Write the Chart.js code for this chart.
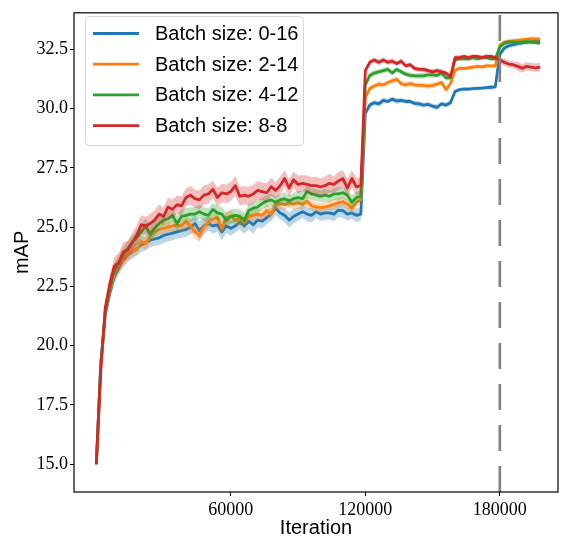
<!DOCTYPE html>
<html>
<head>
<meta charset="utf-8">
<script src="https://cdn.jsdelivr.net/npm/chart.js@4.4.1/dist/chart.umd.min.js"></script>
<style>
html,body{margin:0;padding:0;background:#fff;}
#c{display:block;}
</style>
</head>
<body>
<canvas id="c" width="561" height="537"></canvas>
<script>
// ---------------- DATA ----------------
const iterations = [
  0,2000,4000,6000,8000,10000,12000,14000,16000,18000,
  20000,22000,24000,26000,28000,30000,32000,34000,36000,38000,
  40000,42000,44000,46000,48000,50000,52000,54000,56000,58000,
  60000,62000,64000,66000,68000,70000,72000,74000,76000,78000,
  80000,82000,84000,86000,88000,90000,92000,94000,96000,98000,
  100000,102000,104000,106000,108000,110000,112000,114000,116000,118000,
  120000,122000,124000,126000,128000,130000,132000,134000,136000,138000,
  140000,142000,144000,146000,148000,150000,152000,154000,156000,158000,
  160000,162000,164000,166000,168000,170000,172000,174000,176000,178000,
  180000,182000,184000,186000,188000,190000,192000,194000,196000,198000
];

const seriesLabels = ['Batch size: 0-16','Batch size: 2-14','Batch size: 4-12','Batch size: 8-8'];
const seriesColors = ['#1f77b4','#ff7f0e','#2ca02c','#d62728'];

const map016 = [
  15.0,19.3,21.3,22.2,22.9,23.3,23.6,23.85,23.95,24.1,
  24.25,24.35,24.45,24.5,24.55,24.65,24.7,24.75,24.8,24.85,
  24.9,25.0,25.15,24.85,25.05,25.15,25.05,25.1,24.8,25.05,
  24.95,25.05,25.2,25.05,25.25,25.1,25.3,25.25,25.4,25.55,
  25.8,25.6,25.5,25.3,25.45,25.55,25.65,25.55,25.5,25.65,
  25.55,25.6,25.6,25.55,25.72,25.7,25.55,25.6,25.5,25.55,
  29.8,30.15,30.25,30.2,30.35,30.3,30.4,30.32,30.35,30.3,
  30.3,30.22,30.2,30.15,30.18,30.1,30.05,30.2,30.15,30.25,
  30.72,30.8,30.82,30.82,30.84,30.85,30.86,30.88,30.9,30.92,
  32.3,32.55,32.65,32.7,32.74,32.77,32.8,32.82,32.83,32.84
];
const map214 = [
  15.0,19.1,21.4,22.3,23.0,23.35,23.6,23.85,24.0,24.05,
  24.4,24.3,24.6,24.8,24.9,24.95,25.0,25.05,25.1,25.05,
  25.25,25.05,24.8,24.65,25.0,25.2,25.35,25.4,24.95,25.4,
  25.45,25.3,25.35,25.2,25.45,25.5,25.55,25.5,25.7,25.55,
  25.95,26.0,25.95,26.03,25.96,26.03,25.95,26.1,25.9,25.85,
  25.82,25.85,25.9,25.96,26.03,26.08,25.96,25.8,26.05,26.15,
  30.45,30.85,30.95,31.03,31.0,31.1,31.17,31.24,31.05,31.0,
  31.05,31.0,30.98,30.98,30.95,30.98,31.03,31.1,30.8,31.05,
  31.62,31.7,31.7,31.72,31.75,31.78,31.76,31.8,31.8,31.8,
  32.68,32.8,32.83,32.86,32.88,32.9,32.92,32.94,32.94,32.93
];
const map412 = [
  15.0,19.2,21.5,22.4,23.2,23.5,23.85,24.1,24.35,24.55,
  24.8,25.05,24.7,24.95,25.15,25.3,25.35,25.5,25.15,25.45,
  25.5,25.55,25.55,25.65,25.55,25.5,25.75,25.6,25.55,25.3,
  25.45,25.5,25.45,25.3,25.7,25.8,25.85,26.0,26.1,26.15,
  26.05,26.15,26.2,26.1,26.2,26.25,26.2,26.5,26.4,26.35,
  26.3,26.35,26.3,26.4,26.4,26.45,26.35,26.05,26.25,26.3,
  31.0,31.4,31.5,31.55,31.6,31.65,31.5,31.65,31.55,31.45,
  31.4,31.38,31.38,31.38,31.42,31.42,31.4,31.5,31.3,31.3,
  32.05,32.1,32.1,32.1,32.15,32.1,32.15,32.15,32.1,32.1,
  32.6,32.75,32.8,32.8,32.78,32.8,32.82,32.8,32.78,32.76
];
const map88 = [
  15.0,19.0,21.6,22.6,23.35,23.5,23.95,24.05,24.35,24.65,
  25.1,25.05,25.15,25.3,25.55,25.45,25.85,25.75,25.95,25.9,
  26.25,26.35,26.2,26.15,26.35,26.4,26.6,26.25,26.45,26.4,
  26.5,26.75,26.3,26.35,26.3,26.4,26.55,26.5,26.45,26.7,
  26.55,26.75,27.05,26.65,27.0,26.8,26.85,26.8,26.75,26.75,
  26.7,26.75,26.85,26.8,26.95,27.05,26.65,27.05,26.7,26.75,
  31.6,31.95,32.05,31.95,32.05,31.95,32.0,31.9,32.0,31.8,
  31.85,31.7,31.65,31.65,31.6,31.55,31.6,31.55,31.5,31.35,
  32.15,32.15,32.2,32.15,32.2,32.2,32.15,32.2,32.2,32.15,
  32.05,31.95,31.88,31.85,31.78,31.7,31.78,31.75,31.72,31.75
];

// half-width of the shaded band around each curve
const spread016 = [
  0.05,0.2,0.25,0.25,0.3,0.3,0.3,0.3,0.28,0.3,
  0.3,0.32,0.3,0.28,0.3,0.32,0.3,0.3,0.28,0.3,
  0.32,0.3,0.35,0.4,0.35,0.3,0.32,0.3,0.35,0.3,
  0.3,0.28,0.3,0.32,0.35,0.38,0.3,0.3,0.28,0.3,
  0.3,0.28,0.3,0.32,0.3,0.28,0.25,0.3,0.3,0.28,
  0.28,0.3,0.28,0.3,0.28,0.3,0.28,0.25,0.28,0.3,
  0.12,0.12,0.1,0.12,0.12,0.1,0.1,0.12,0.1,0.1,
  0.1,0.1,0.12,0.1,0.1,0.12,0.12,0.1,0.1,0.12,
  0.08,0.08,0.09,0.08,0.08,0.09,0.08,0.08,0.09,0.08,
  0.15,0.12,0.1,0.1,0.1,0.1,0.1,0.1,0.1,0.1
];
const spread214 = [
  0.05,0.2,0.22,0.22,0.25,0.25,0.25,0.28,0.25,0.25,
  0.25,0.28,0.25,0.25,0.22,0.25,0.25,0.25,0.22,0.25,
  0.25,0.28,0.3,0.28,0.25,0.25,0.22,0.25,0.3,0.25,
  0.25,0.22,0.25,0.25,0.22,0.25,0.25,0.22,0.25,0.25,
  0.22,0.25,0.22,0.2,0.22,0.25,0.22,0.2,0.22,0.2,
  0.2,0.22,0.2,0.22,0.2,0.2,0.22,0.25,0.2,0.2,
  0.12,0.12,0.1,0.12,0.1,0.1,0.12,0.1,0.1,0.12,
  0.12,0.1,0.12,0.1,0.12,0.1,0.12,0.1,0.12,0.1,
  0.1,0.1,0.08,0.1,0.08,0.1,0.08,0.1,0.08,0.1,
  0.1,0.1,0.1,0.1,0.1,0.1,0.1,0.1,0.1,0.1
];
const spread412 = [
  0.05,0.2,0.25,0.25,0.28,0.3,0.3,0.3,0.3,0.3,
  0.32,0.3,0.35,0.3,0.3,0.28,0.3,0.3,0.32,0.3,
  0.3,0.28,0.3,0.3,0.28,0.3,0.28,0.3,0.3,0.32,
  0.3,0.28,0.3,0.3,0.28,0.25,0.28,0.25,0.25,0.28,
  0.25,0.25,0.28,0.25,0.25,0.28,0.3,0.28,0.25,0.25,
  0.25,0.28,0.25,0.25,0.28,0.25,0.25,0.3,0.25,0.25,
  0.12,0.12,0.12,0.1,0.12,0.1,0.12,0.1,0.12,0.1,
  0.12,0.1,0.12,0.12,0.1,0.12,0.1,0.12,0.12,0.12,
  0.1,0.08,0.08,0.1,0.08,0.1,0.08,0.1,0.08,0.1,
  0.1,0.1,0.08,0.1,0.1,0.08,0.1,0.1,0.08,0.1
];
const spread88 = [
  0.05,0.25,0.3,0.35,0.38,0.4,0.4,0.38,0.4,0.42,
  0.4,0.38,0.4,0.42,0.4,0.38,0.4,0.42,0.38,0.4,
  0.38,0.4,0.38,0.4,0.42,0.4,0.38,0.4,0.38,0.4,
  0.4,0.42,0.4,0.38,0.4,0.38,0.4,0.38,0.4,0.38,
  0.35,0.38,0.35,0.38,0.35,0.38,0.35,0.38,0.35,0.38,
  0.35,0.38,0.4,0.35,0.38,0.35,0.38,0.35,0.38,0.35,
  0.12,0.12,0.1,0.12,0.12,0.1,0.12,0.1,0.12,0.1,
  0.1,0.12,0.1,0.12,0.1,0.12,0.1,0.12,0.1,0.12,
  0.1,0.1,0.08,0.1,0.1,0.08,0.1,0.1,0.08,0.1,
  0.12,0.15,0.15,0.15,0.18,0.18,0.18,0.18,0.18,0.18
];

const seriesValues = [map016, map214, map412, map88];
const seriesSpreads = [spread016, spread214, spread412, spread88];

const yTickValues = [15.0, 17.5, 20.0, 22.5, 25.0, 27.5, 30.0, 32.5];
const xTickValues = [60000, 120000, 180000];
const markerIteration = 180000;
const xLimits = [-9950, 205950];
const yLimits = [13.83, 34.04];
const xAxisTitle = 'Iteration';
const yAxisTitle = 'mAP';

// ---------------- CHART ----------------
function hexA(hex, a){
  const n = parseInt(hex.slice(1),16);
  return `rgba(${(n>>16)&255},${(n>>8)&255},${n&255},${a})`;
}
function pts(vals, off, sign){
  return iterations.map((x,i)=>({x:x, y: vals[i] + sign*(off ? off[i] : 0)}));
}

// first dataset is drawn on top, so build list top-most first
const datasets = [];
datasets.push({
  label: 'marker',
  data: [{x: markerIteration, y: yLimits[0]}, {x: markerIteration, y: yLimits[1]}],
  borderColor: '#808080',
  borderWidth: 2.6,
  borderDash: [26, 15],
  pointRadius: 0,
  fill: false,
  tension: 0
});
for (let k = seriesValues.length - 1; k >= 0; k--) {
  datasets.push({
    label: seriesLabels[k],
    data: pts(seriesValues[k], null, 0),
    borderColor: seriesColors[k],
    borderWidth: 2.8,
    pointRadius: 0,
    fill: false,
    tension: 0,
    borderJoinStyle: 'round'
  });
  datasets.push({
    label: 'upper' + k,
    data: pts(seriesValues[k], seriesSpreads[k], 1),
    borderWidth: 0,
    borderColor: 'rgba(0,0,0,0)',
    pointRadius: 0,
    backgroundColor: hexA(seriesColors[k], 0.3),
    fill: '+1',
    tension: 0
  });
  datasets.push({
    label: 'lower' + k,
    data: pts(seriesValues[k], seriesSpreads[k], -1),
    borderWidth: 0,
    borderColor: 'rgba(0,0,0,0)',
    pointRadius: 0,
    fill: false,
    tension: 0
  });
}

const decor = {
  id: 'decor',
  afterDraw(chart){
    const ctx = chart.ctx, a = chart.chartArea;
    ctx.save();
    // frame
    ctx.strokeStyle = '#000';
    ctx.lineWidth = 1.2;
    ctx.strokeRect(a.left, a.top, a.right - a.left, a.bottom - a.top);
    // axis titles
    ctx.fillStyle = '#000';
    ctx.font = '20px "Liberation Sans", Arial, sans-serif';
    ctx.textAlign = 'center';
    ctx.textBaseline = 'middle';
    ctx.fillText(xAxisTitle, (a.left + a.right)/2, 528);
    ctx.save();
    ctx.translate(22, (a.top + a.bottom)/2);
    ctx.rotate(-Math.PI/2);
    ctx.fillText(yAxisTitle, 0, 0);
    ctx.restore();
    // legend
    const lx = 85.5, ly = 16.5, lw = 218, lh = 129, r = 4;
    ctx.beginPath();
    ctx.moveTo(lx + r, ly);
    ctx.lineTo(lx + lw - r, ly); ctx.arcTo(lx + lw, ly, lx + lw, ly + r, r);
    ctx.lineTo(lx + lw, ly + lh - r); ctx.arcTo(lx + lw, ly + lh, lx + lw - r, ly + lh, r);
    ctx.lineTo(lx + r, ly + lh); ctx.arcTo(lx, ly + lh, lx, ly + lh - r, r);
    ctx.lineTo(lx, ly + r); ctx.arcTo(lx, ly, lx + r, ly, r);
    ctx.closePath();
    ctx.fillStyle = 'rgba(255,255,255,0.8)';
    ctx.fill();
    ctx.strokeStyle = '#d6d6d6';
    ctx.lineWidth = 1;
    ctx.stroke();
    ctx.textAlign = 'left';
    ctx.font = '20px "Liberation Sans", Arial, sans-serif';
    for (let k = 0; k < seriesLabels.length; k++) {
      const y = 33.5 + k * 30.7;
      ctx.strokeStyle = seriesColors[k];
      ctx.lineWidth = 2.8;
      ctx.beginPath(); ctx.moveTo(93, y); ctx.lineTo(139, y); ctx.stroke();
      ctx.fillStyle = '#000';
      ctx.fillText(seriesLabels[k], 155, y + 1);
    }
    ctx.restore();
  }
};

new Chart(document.getElementById('c'), {
  type: 'line',
  data: { datasets },
  options: {
    responsive: false,
    animation: false,
    devicePixelRatio: 1,
    layout: { padding: { top: 6, right: 3, left: 0, bottom: 0 } },
    plugins: { legend: { display: false }, tooltip: { enabled: false } },
    elements: { line: { capBezierPoints: false } },
    scales: {
      x: {
        type: 'linear',
        min: xLimits[0], max: xLimits[1],
        afterFit(s){ s.height = 45; },
        afterBuildTicks(s){ s.ticks = xTickValues.map(v => ({value: v})); },
        grid: { drawOnChartArea: false, drawTicks: true, tickLength: 4, color: '#000', tickColor: '#000' },
        border: { display: false },
        ticks: {
          padding: 3,
          maxRotation: 0,
          color: '#000',
          font: { family: '"Liberation Serif", "Times New Roman", serif', size: 18 },
          callback: v => String(v)
        }
      },
      y: {
        type: 'linear',
        min: yLimits[0], max: yLimits[1],
        afterFit(s){ s.width = 74; },
        afterBuildTicks(s){ s.ticks = yTickValues.map(v => ({value: v})); },
        grid: { drawOnChartArea: false, drawTicks: true, tickLength: 4, color: '#000', tickColor: '#000' },
        border: { display: false },
        ticks: {
          padding: 2,
          color: '#000',
          font: { family: '"Liberation Serif", "Times New Roman", serif', size: 18 },
          callback: v => Number(v).toFixed(1)
        }
      }
    }
  },
  plugins: [decor]
});
</script>
</body>
</html>
